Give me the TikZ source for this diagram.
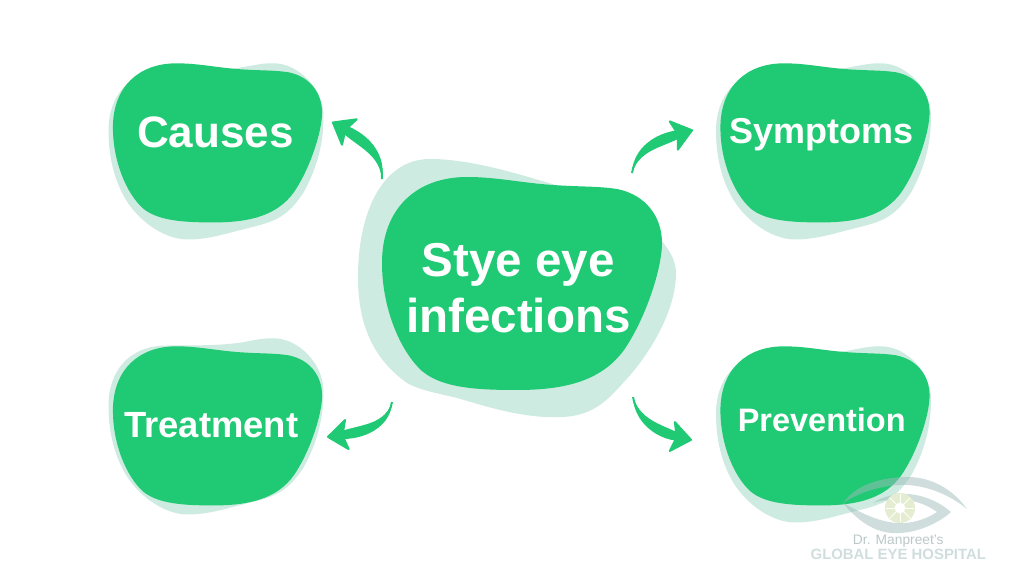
\documentclass[tikz,border=0pt]{standalone}
\usepackage{fontspec}
\setmainfont{Liberation Sans}
\usetikzlibrary{arrows.meta}
\definecolor{blobgreen}{HTML}{20C973}
\definecolor{blobshade}{HTML}{CDEBE0}
\definecolor{logogrey}{HTML}{9FBDBC}
\definecolor{logotext}{HTML}{CFDEDD}
\definecolor{logoiris}{HTML}{E4EDD0}
% outlines round (0,0), in pixels of the picture
\newcommand{\frontblob}{(-140,-20) .. controls (-140,-75) and (-105,-106) .. (-55,-106)
	.. controls (-25,-106) and (0,-100) .. (31,-98)
	.. controls (60,-96) and (75,-97) .. (95,-94)
	.. controls (125,-88) and (140,-65) .. (140,-40)
	.. controls (140,-15) and (124,35) .. (102,67)
	.. controls (80,97) and (45,107) .. (-5,107)
	.. controls (-45,107) and (-80,105) .. (-100,88)
	.. controls (-122,68) and (-140,25) .. (-140,-20) -- cycle}
\newcommand{\backblob}{(-109,-12) .. controls (-109,-45) and (-90,-72) .. (-50,-72)
	.. controls (-20,-72) and (10,-72) .. (29,-76)
	.. controls (40,-78) and (50,-80) .. (59,-79)
	.. controls (80,-78) and (106,-55) .. (106,-26)
	.. controls (106,0) and (100,25) .. (86,50)
	.. controls (68,78) and (52,80) .. (29,86)
	.. controls (5,92) and (-10,97) .. (-30,97)
	.. controls (-55,97) and (-85,75) .. (-97,47)
	.. controls (-105,30) and (-109,10) .. (-109,-12) -- cycle}
\newcommand{\bigback}{(-164,-6) .. controls (-164,-70) and (-140,-124) .. (-92,-124)
	.. controls (-50,-124) and (0,-108) .. (40,-96)
	.. controls (80,-90) and (154,-50) .. (154,-10)
	.. controls (154,30) and (125,75) .. (101,100)
	.. controls (85,118) and (70,133) .. (40,134)
	.. controls (0,136) and (-40,122) .. (-65,115)
	.. controls (-85,110) and (-100,108) .. (-115,100)
	.. controls (-150,75) and (-164,40) .. (-164,-6) -- cycle}
\tikzset{
	x=0.025cm, y=-0.025cm,
	blobtext/.style={white, font=\bfseries, align=center, inner sep=0pt},
	swoosh/.style={blobgreen, line width=0.05cm, -{Stealth[length=0.56cm, width=0.86cm, inset=0.13cm, round]}},
}
\begin{document}
\begin{tikzpicture}
	\useasboundingbox (0,0) rectangle (1024,576);
	
	\fill[blobshade, shift={(217.5,142.5)}] \backblob;
	\fill[blobshade, shift={(825,142.5)}] \backblob;
	\fill[blobshade, shift={(217.5,417.5)}] \backblob;
	\fill[blobshade, shift={(825,425.5)}] \backblob;
	\fill[blobshade, shift={(522,283)}] \bigback;
	\fill[blobgreen, shift={(522,283)}] \frontblob;
	\fill[blobgreen, shift={(217.5,142.5)}, scale=0.747] \frontblob;
	\fill[blobgreen, shift={(825,142.5)}, scale=0.747] \frontblob;
	\fill[blobgreen, shift={(217.5,425.5)}, scale=0.747] \frontblob;
	\fill[blobgreen, shift={(825,425.5)}, scale=0.747] \frontblob;
	
	\node[blobtext, font=\bfseries\fontsize{33.8}{39.6}\selectfont] (stye) at (518.3,288) {Stye eye\\infections};
	\node[blobtext, anchor=base, font=\bfseries\fontsize{31.3}{36}\selectfont] (causes) at (215.5,148) {Causes};
	\node[blobtext, anchor=base, font=\bfseries\fontsize{25.6}{30}\selectfont] (symptoms) at (821.7,144) {Symptoms};
	\node[blobtext, anchor=base, font=\bfseries\fontsize{25.9}{30}\selectfont] (treatment) at (211.3,437.7) {Treatment};
	\node[blobtext, anchor=base, font=\bfseries\fontsize{23.1}{28}\selectfont] (prevention) at (821.7,431.7) {Prevention};
	
	\coordinate (causesfrom) at (382,179);
	\coordinate (causesto) at (332,122);
	\coordinate (symptomsfrom) at (632,173);
	\coordinate (symptomsto) at (693,130);
	\coordinate (treatmentfrom) at (392,402);
	\coordinate (treatmentto) at (327,437);
	\coordinate (preventionfrom) at (633,397);
	\coordinate (preventionto) at (692,440);
	\draw[swoosh] (causesfrom) to[out=88, in=-30] (causesto);
	\draw[swoosh] (symptomsfrom) to[out=80, in=196] (symptomsto);
	\draw[swoosh] (treatmentfrom) to[out=-100, in=7] (treatmentto);
	\draw[swoosh] (preventionfrom) to[out=-80, in=170] (preventionto);
	% the bodies swell towards the heads
	\fill[blobgreen] (causesfrom) to[out=80, in=-8] (causesto) to[out=-52, in=96] (causesfrom);
	\fill[blobgreen] (symptomsfrom) to[out=88, in=174] (symptomsto) to[out=218, in=72] (symptomsfrom);
	\fill[blobgreen] (treatmentfrom) to[out=-92, in=-15] (treatmentto) to[out=29, in=-108] (treatmentfrom);
	\fill[blobgreen] (preventionfrom) to[out=-88, in=192] (preventionto) to[out=148, in=-72] (preventionfrom);
	
	% logo over the corner
	\fill[logogrey, opacity=0.5] (843,503) .. controls (860,480) and (890,477) .. (910,477) .. controls (935,478) and (955,492) .. (967,509)
		.. controls (950,495) and (925,484) .. (900,485) .. controls (880,486) and (860,492) .. (843,503) -- cycle;
	\fill[logogrey, opacity=0.5] (843,503) .. controls (865,530) and (885,534) .. (900,533) .. controls (920,532) and (940,522) .. (951,512)
		.. controls (935,498) and (915,493) .. (900,494) .. controls (890,495) and (880,498) .. (873,503)
		.. controls (885,499) and (900,499) .. (912,501) .. controls (922,503) and (930,507) .. (937,512)
		.. controls (925,520) and (910,524) .. (898,523) .. controls (880,522) and (865,515) .. (843,503) -- cycle;
	\fill[logoiris] (900,508) circle[radius=15];
	\fill[white] (900,508) circle[radius=5.5];
	\foreach \a in {0,45,...,315}
		\draw[white, line width=0.02cm] (900,508) -- ++(\a:0.36cm);
	\node[logotext!90!black, inner sep=0pt, anchor=base, font=\fontsize{9.8}{12}\selectfont] (drname) at (898.3,544) {Dr. Manpreet's};
	\node[logotext, inner sep=0pt, anchor=base, font=\bfseries\fontsize{10.6}{12}\selectfont] (hospital) at (898.3,559) {GLOBAL EYE HOSPITAL};
\end{tikzpicture}
\end{document}
